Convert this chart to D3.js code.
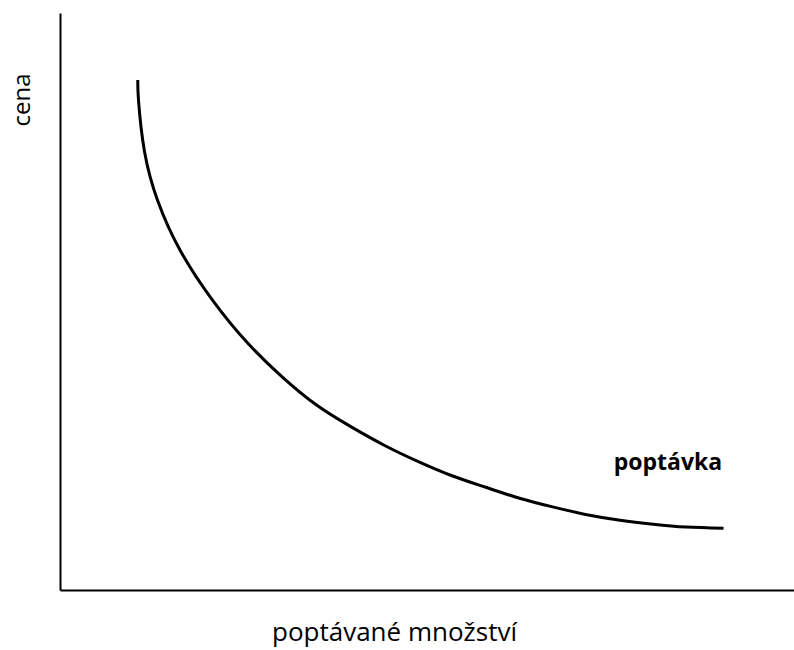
<!DOCTYPE html>
<html>
<head>
<meta charset="utf-8">
<script src="https://cdn.jsdelivr.net/npm/d3@7"></script>
<style>
	body { margin: 0; background: #fff; }
	svg { display: block; }
	text { font-family: 'Open Sans', sans-serif; fill: #000; }
</style>
</head>
<body>
<div id="chart"></div>
<script>

// demand curve (domain 0..10 on both axes)
const quantity = [1.06, 1.07, 1.15, 1.33, 1.64, 2.08, 2.55, 3.03, 3.49, 3.95, 4.43, 4.89, 5.34, 5.80, 6.26, 6.71, 7.16, 7.63, 8.08, 8.53, 9.04];
const price    = [8.84, 8.48, 7.61, 6.75, 5.88, 5.02, 4.29, 3.69, 3.21, 2.84, 2.50, 2.22, 1.98, 1.78, 1.59, 1.44, 1.31, 1.21, 1.14, 1.09, 1.07];

const labelX = 'poptávané množství';
const labelY = 'cena';
const curveLabel = 'poptávka';

class DemandChart {

	constructor(selector){

		this.width = 794;
		this.height = 650;

		this.margin = {
			top: 13,
			left: 60,
			bottom: 60,
			right: 0
		}

		this.scaleX = d3.scaleLinear().domain([0, 10]).range([this.margin.left, this.width - this.margin.right]);
		this.scaleY = d3.scaleLinear().domain([0, 10]).range([this.height - this.margin.bottom, this.margin.top]);

		this.element = d3.select(selector).append('svg')
		.attr('width', this.width)
		.attr('height', this.height);
	}

	create(){

		let data = quantity.map((q, i) => { return {q: q, p: price[i]}; });

		// axes without ticks, only the lines
		this.element.append('g')
		.attr('transform', `translate(0,${this.scaleY(0)})`)
		.call(d3.axisBottom(this.scaleX).tickValues([]).tickSizeOuter(0))
		.select('.domain')
		.attr('stroke', '#000')
		.attr('stroke-width', 2);

		this.element.append('g')
		.attr('transform', `translate(${this.scaleX(0)},0)`)
		.call(d3.axisLeft(this.scaleY).tickValues([]).tickSizeOuter(0))
		.select('.domain')
		.attr('stroke', '#000')
		.attr('stroke-width', 2);

		let line = d3.line()
		.x((d) => { return this.scaleX(d.q); })
		.y((d) => { return this.scaleY(d.p); })
		.curve(d3.curveNatural);

		this.element.append('path')
		.datum(data)
		.attr('d', line)
		.attr('fill', 'none')
		.attr('stroke', '#000')
		.attr('stroke-width', 3);

		this.element.append('text')
		.attr('x', 272)
		.attr('y', 641)
		.style('font-size', '26px')
		.text(labelX);

		this.element.append('text')
		.attr('transform', 'translate(30,100) rotate(-90)')
		.style('text-anchor', 'middle')
		.style('font-size', '24px')
		.text(labelY);

		this.element.append('text')
		.attr('x', 668)
		.attr('y', 470)
		.style('text-anchor', 'middle')
		.style('font-size', '23px')
		.style('font-weight', 'bold')
		.text(curveLabel);
	}
}

let chart = new DemandChart('#chart');
chart.create();

</script>
</body>
</html>
